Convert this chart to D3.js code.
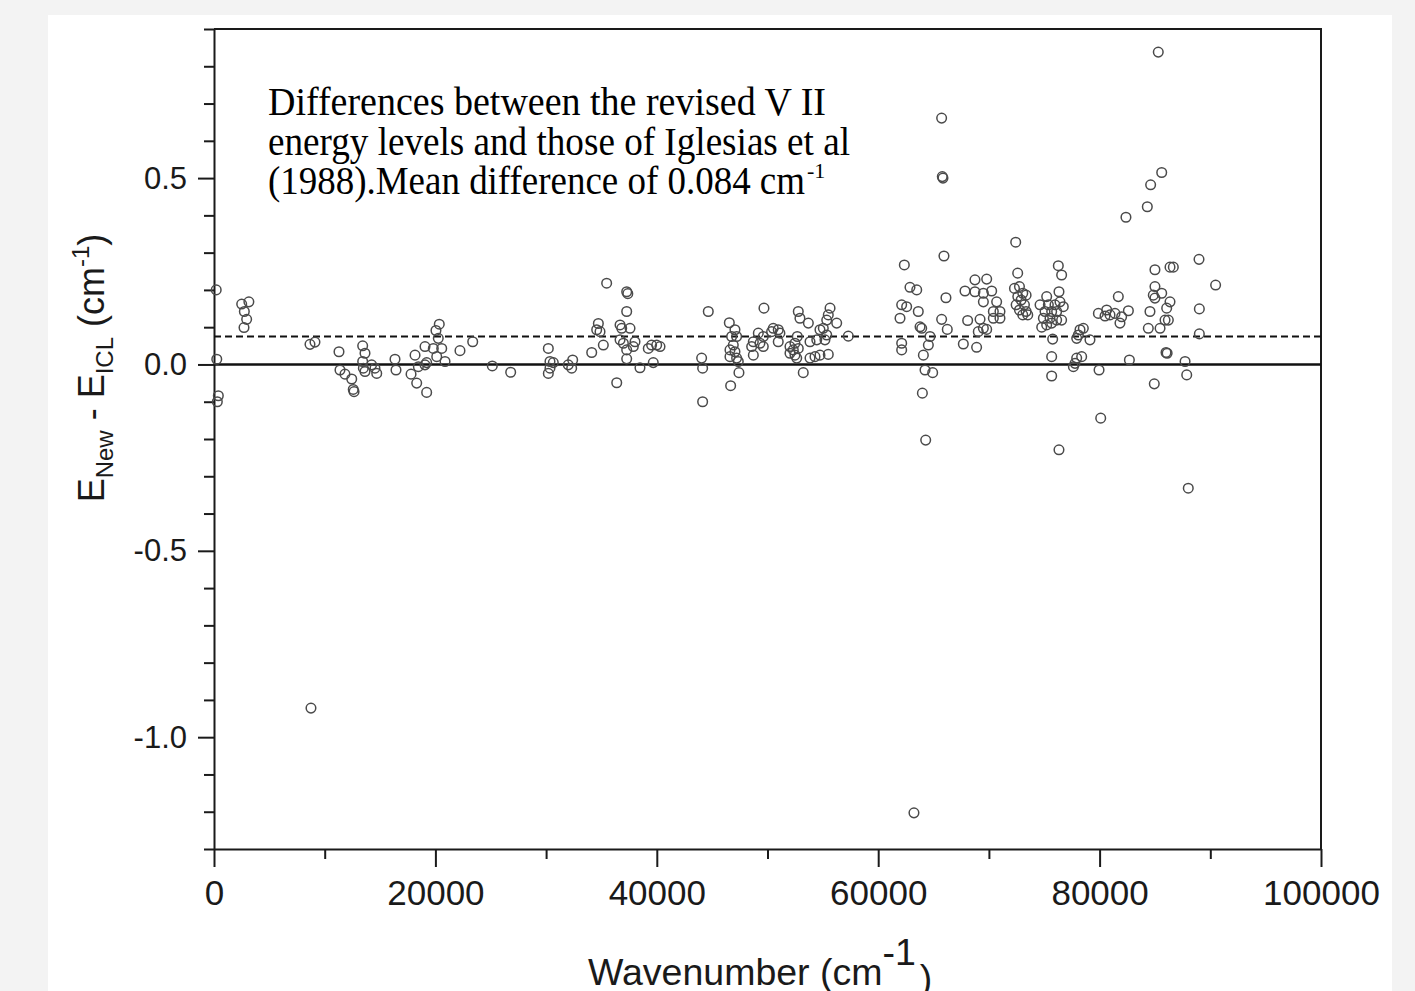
<!DOCTYPE html>
<html>
<head>
<meta charset="utf-8">
<script src="https://cdn.jsdelivr.net/npm/d3@7"></script>
<style>
    body { margin: 0; background: #f3f3f3; }
    svg { display: block; }
    .tick text { font-family: "Liberation Sans", Arial, sans-serif; fill: #1a1a1a; }
    .tick line, .domain { stroke: #1a1a1a; stroke-width: 2; }
</style>
</head>
<body>
<div id="chart"></div>
<script>
//Datos: número de onda (cm-1) y diferencia E_New - E_ICL (cm-1)
const wavenumbers = [
    200, 250, 390, 300, 2500, 3150, 2740, 2950, 2710, 8670, 9120, 11290,
    11380, 11830, 12440, 12580, 12650, 13430, 13640, 13430, 13490, 13640, 14240, 14540, 14700,
    16350, 16440, 18160, 17800, 18310, 19210, 18460, 19060,
    20350, 20050, 20260, 19060, 19810, 20570, 20120, 20870, 19210,
    22220, 23370, 25140, 26800, 30200, 30350, 30200, 30650, 30350, 32000, 32310, 32400, 8760,
    35470, 37280, 37380, 37280, 34720, 34570, 34870, 36680, 36830, 37580, 35170, 34120,
    36680, 36980, 37280, 37880, 38030, 37280, 36380, 38480,
    39230, 39530, 39990, 40290, 39680, 44050, 44140, 44140, 44650,
    46550, 47060, 46760, 47210, 46910, 46610, 47060, 46610, 47210, 47360, 47420, 46670,
    49170, 49620, 48720, 49320, 48570, 49620, 48720, 50520, 50370, 50970, 51120, 50970, 49680,
    52030, 52330, 52480, 52640, 52030, 52780, 52480, 52780, 52930, 53690, 52690, 53230,
    53840, 54290, 54740, 55490, 53840, 54450, 54740, 55040, 55350, 55490, 55650, 56250, 55350, 55190, 57300,
    62360, 62870, 63480, 62120, 62570, 63620, 61970, 66120, 65730, 66240,
    63780, 63930, 64680, 64530, 62120, 62120, 64080, 64230, 64920, 63990, 64290, 63230,
    65730, 65790, 65850, 65940,
    67840, 68740, 68740, 69800, 69500, 70250, 69500, 70700, 70400, 71000, 70400, 71000,
    68080, 69200, 69040, 69500, 69800, 67690, 68890,
    72420, 72600, 72310, 72760, 73060, 73360, 72610, 72910, 72460, 73210, 72760, 73360, 73060, 73510,
    76270, 76570, 76330, 74620, 75220, 75370, 75970, 76420, 76720, 75070, 75670, 76120, 74920, 75520, 76120, 76570, 75220, 75670, 74770,
    75760, 75670, 75670, 76330,
    78230, 78530, 78080, 79130, 77930, 78380, 77930, 77780, 77630,
    80100, 79950, 82690, 81690, 79890, 80640, 80940, 81390, 81990, 82600, 81840, 80490,
    85300, 85610, 84610, 84310, 82380, 85000, 86360, 86660, 88980, 90480,
    85000, 84850, 85000, 85610, 86360, 84550, 86060, 85910, 86210, 84400, 85460,
    86000, 86100, 87720, 87870, 84940, 88010, 89010, 89010
];

const differences = [
    0.20, 0.014, -0.084, -0.10, 0.162, 0.168, 0.142, 0.121, 0.099, 0.054, 0.06, 0.034,
    -0.015, -0.026, -0.039, -0.067, -0.073, 0.05, 0.03, 0.008, -0.01, -0.019, -0.001, -0.01, -0.024,
    0.014, -0.015, 0.025, -0.026, -0.05, -0.075, -0.006, -0.001,
    0.108, 0.091, 0.070, 0.048, 0.043, 0.043, 0.021, 0.008, 0.005,
    0.037, 0.061, -0.004, -0.021, 0.043, 0.008, -0.024, 0.005, -0.01, -0.001, -0.01, 0.012, -0.922,
    0.218, 0.195, 0.19, 0.142, 0.11, 0.093, 0.088, 0.106, 0.097, 0.097, 0.052, 0.032,
    0.066, 0.057, 0.039, 0.048, 0.061, 0.015, -0.049, -0.009,
    0.043, 0.052, 0.052, 0.048, 0.005, 0.017, -0.01, -0.10, 0.142,
    0.112, 0.093, 0.075, 0.075, 0.052, 0.039, 0.034, 0.021, 0.017, 0.008, -0.022, -0.057,
    0.084, 0.075, 0.061, 0.057, 0.048, 0.048, 0.025, 0.097, 0.088, 0.093, 0.084, 0.061, 0.151,
    0.048, 0.039, 0.025, 0.017, 0.030, 0.043, 0.057, 0.142, 0.124, 0.111, 0.075, -0.022,
    0.017, 0.021, 0.025, 0.027, 0.061, 0.066, 0.093, 0.097, 0.119, 0.133, 0.151, 0.111, 0.079, 0.066, 0.076,
    0.267, 0.207, 0.2, 0.16, 0.155, 0.142, 0.124, 0.179, 0.121, 0.094,
    0.101, 0.097, 0.075, 0.052, 0.057, 0.039, 0.025, -0.015, -0.022, -0.077, -0.203, -1.203,
    0.661, 0.504, 0.5, 0.291,
    0.197, 0.227, 0.195, 0.229, 0.191, 0.197, 0.168, 0.168, 0.142, 0.142, 0.124, 0.124,
    0.118, 0.121, 0.088, 0.097, 0.094, 0.055, 0.046,
    0.328, 0.245, 0.204, 0.209, 0.191, 0.186, 0.182, 0.173, 0.160, 0.160, 0.146, 0.142, 0.133, 0.133,
    0.265, 0.24, 0.195, 0.16, 0.182, 0.16, 0.16, 0.168, 0.155, 0.142, 0.142, 0.142, 0.124, 0.124, 0.119, 0.119, 0.106, 0.111, 0.1,
    0.068, 0.021, -0.031, -0.229,
    0.093, 0.097, 0.079, 0.066, 0.070, 0.021, 0.017, 0.003, -0.006,
    -0.144, -0.015, 0.012, 0.182, 0.137, 0.146, 0.133, 0.137, 0.128, 0.144, 0.111, 0.13,
    0.838, 0.515, 0.482, 0.423, 0.395, 0.254, 0.261, 0.261, 0.282, 0.213,
    0.209, 0.186, 0.178, 0.191, 0.168, 0.142, 0.151, 0.119, 0.119, 0.097, 0.097,
    0.032, 0.03, 0.008, -0.028, -0.052, -0.332, 0.149, 0.082
];

//Línea discontinua (diferencia media, tal como aparece dibujada)
const meanLine = 0.075;

//Ticks
const xMajorTicks = [0, 20000, 40000, 60000, 80000, 100000];
const xMinorTicks = [10000, 30000, 50000, 70000, 90000];
const yMajorTicks = [-1.0, -0.5, 0.0, 0.5];
const yMinorTicks = [-1.3, -1.2, -1.1, -0.9, -0.8, -0.7, -0.6, -0.4, -0.3, -0.2, -0.1, 0.1, 0.2, 0.3, 0.4, 0.6, 0.7, 0.8, 0.9];

const annotationLines = [
    'Differences between the revised V II',
    'energy levels and those of Iglesias et al',
    '(1988).Mean difference of 0.084 cm'
];
const annotationWidths = [558, 582, 537];

let points = wavenumbers.map(function(d, i) { return {x: d, y: differences[i]}; });

let width = 1415, height = 991;
let plot = {left: 214, right: 1321, top: 29, bottom: 849};

let svg = d3.select('#chart')
    .append('svg')
        .attr('width', width)
        .attr('height', height);

//Panel blanco
svg.append('rect')
    .attr('x', 48)
    .attr('y', 15)
    .attr('width', 1344)
    .attr('height', height - 15)
    .attr('fill', '#fff');

let x = d3.scaleLinear()
    .domain([0, 100000])
    .range([plot.left, plot.right]);

let y = d3.scaleLinear()
    .domain([-1.3, 0.9])
    .range([plot.bottom, plot.top]);

//Eje X
svg.append('g')
    .attr('transform', 'translate(0,' + plot.bottom + ')')
    .call(d3.axisBottom(x).tickValues(xMinorTicks).tickSize(10).tickFormat(''))
    .call(function(g) { g.select('.domain').remove(); });

svg.append('g')
    .attr('class', 'x-axis')
    .attr('transform', 'translate(0,' + plot.bottom + ')')
    .call(d3.axisBottom(x).tickValues(xMajorTicks).tickSize(18).tickSizeOuter(0).tickPadding(13).tickFormat(d3.format('d')))
    .call(function(g) { g.selectAll('.tick text').style('font-size', '35px'); });

//Eje Y
svg.append('g')
    .attr('transform', 'translate(' + plot.left + ',0)')
    .call(d3.axisLeft(y).tickValues(yMinorTicks).tickSize(10).tickFormat(''))
    .call(function(g) { g.select('.domain').remove(); });

svg.append('g')
    .attr('class', 'y-axis')
    .attr('transform', 'translate(' + plot.left + ',0)')
    .call(d3.axisLeft(y).tickValues(yMajorTicks).tickSize(16).tickSizeOuter(0).tickPadding(11).tickFormat(function(d) { return d.toFixed(1); }))
    .call(function(g) { g.selectAll('.tick text').style('font-size', '31px'); });

//Marco superior y derecho
svg.append('path')
    .attr('d', 'M' + x(0) + ',' + y(0.9) + 'H' + x(100000) + 'V' + y(-1.3))
    .attr('fill', 'none')
    .attr('stroke', '#1a1a1a')
    .attr('stroke-width', 2);

//Línea del cero y línea media
svg.append('line')
    .attr('x1', x(0)).attr('x2', x(100000))
    .attr('y1', y(0)).attr('y2', y(0))
    .attr('stroke', '#111')
    .attr('stroke-width', 2.5);

svg.append('line')
    .attr('x1', x(0)).attr('x2', x(100000))
    .attr('y1', y(meanLine)).attr('y2', y(meanLine))
    .attr('stroke', '#111')
    .attr('stroke-width', 2)
    .attr('stroke-dasharray', '7,4');

//Puntos
svg.append('g')
    .selectAll('circle')
    .data(points)
    .enter()
    .append('circle')
    .attr('cx', function(d) { return x(d.x); })
    .attr('cy', function(d) { return y(d.y); })
    .attr('r', 4.8)
    .attr('fill', 'none')
    .attr('stroke', '#4a4a4a')
    .attr('stroke-width', 1.5);

//Anotación
let note = svg.append('text')
    .attr('font-family', '"Liberation Serif", "Times New Roman", serif')
    .attr('font-size', 41)
    .attr('fill', '#000');

annotationLines.forEach(function(line, i) {
    note.append('tspan')
        .attr('x', 268)
        .attr('y', 115 + i * 39.5)
        .attr('textLength', annotationWidths[i])
        .attr('lengthAdjust', 'spacingAndGlyphs')
        .text(line);
});
note.append('tspan')
    .attr('font-size', 22)
    .attr('dx', 2)
    .attr('dy', -16)
    .text('-1');

//Título eje X
let xTitle = svg.append('text')
    .attr('x', 588)
    .attr('y', 985)
    .attr('font-family', '"Liberation Sans", Arial, sans-serif')
    .attr('font-size', 37.5)
    .attr('fill', '#1a1a1a');
xTitle.append('tspan').text('Wavenumber (cm');
xTitle.append('tspan').attr('dy', -20).text('-1');
xTitle.append('tspan').attr('dx', 4).attr('dy', 26).text(')');

//Título eje Y
let yTitle = svg.append('text')
    .attr('transform', 'translate(104,368) rotate(-90)')
    .attr('text-anchor', 'middle')
    .attr('font-family', '"Liberation Sans", Arial, sans-serif')
    .attr('font-size', 36)
    .attr('fill', '#1a1a1a');
yTitle.append('tspan').text('E');
yTitle.append('tspan').attr('font-size', 24).attr('dy', 9).text('New');
yTitle.append('tspan').attr('dy', -9).text(' - E');
yTitle.append('tspan').attr('font-size', 24).attr('dy', 9).text('ICL');
yTitle.append('tspan').attr('dy', -9).text(' (cm');
yTitle.append('tspan').attr('font-size', 24).attr('dy', -15).text('-1');
yTitle.append('tspan').attr('dy', 15).text(')');
</script>
</body>
</html>
